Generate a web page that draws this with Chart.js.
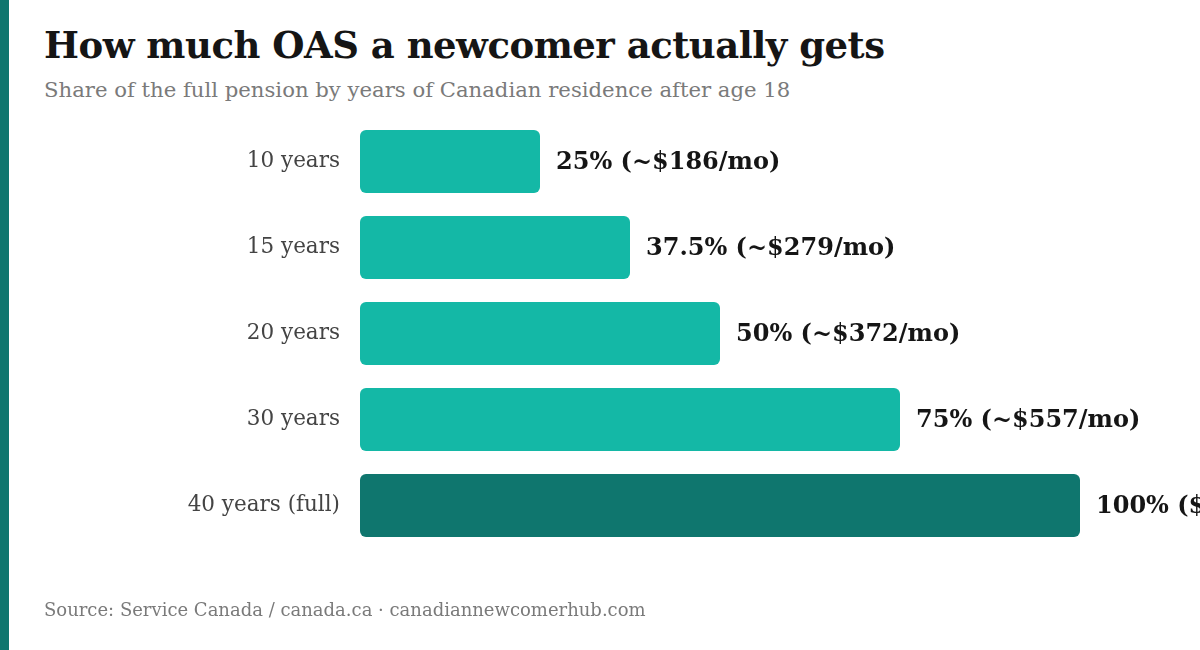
<!DOCTYPE html>
<html lang="en">
<head>
    <meta charset="UTF-8">
    <title>How much OAS a newcomer actually gets</title>
    <script src="https://cdn.jsdelivr.net/npm/chart.js"></script>
    <style>
        html, body { margin: 0; padding: 0; background: #fff; }
        body { width: 1200px; height: 650px; position: relative; overflow: hidden; font-family: "DejaVu Serif", serif; }
        /* teal accent strip on the left edge */
        .accent { position: absolute; left: 0; top: 0; width: 9px; height: 650px; background: #0f766e; }
        .title { position: absolute; left: 44px; top: 23px; font-size: 37px; font-weight: bold; color: #151515; white-space: nowrap; letter-spacing: -0.5px; }
        .subtitle { position: absolute; left: 44px; top: 77px; font-size: 21.2px; color: #7a7a7a; white-space: nowrap; }
        .source { position: absolute; left: 44px; top: 599px; font-size: 18px; color: #7a7a7a; white-space: nowrap; }
        .chart-box { position: absolute; left: 0; top: 0; width: 1200px; height: 650px; }
    </style>
</head>
<body>
    <div class="accent"></div>
    <div class="title">How much OAS a newcomer actually gets</div>
    <div class="subtitle">Share of the full pension by years of Canadian residence after age 18</div>
    <div class="chart-box"><canvas id="oasChart"></canvas></div>
    <div class="source">Source: Service Canada / canada.ca · canadiannewcomerhub.com</div>

    <script>
        // Data
        const residence = ['10 years', '15 years', '20 years', '30 years', '40 years (full)'];
        const sharePct = [25, 37.5, 50, 75, 100];
        const valueLabels = ['25% (~$186/mo)', '37.5% (~$279/mo)', '50% (~$372/mo)', '75% (~$557/mo)', '100% ($743/mo)'];

        const LIGHT = '#14b8a6';
        const DARK = '#0f766e';
        const SERIF = '"DejaVu Serif", serif';

        // Bold value text just past the end of each bar
        const endLabels = {
            id: 'endLabels',
            afterDatasetsDraw(chart) {
                const ctx = chart.ctx;
                const meta = chart.getDatasetMeta(0);
                ctx.save();
                ctx.font = 'bold 24px ' + SERIF;
                ctx.fillStyle = '#151515';
                ctx.textAlign = 'left';
                ctx.textBaseline = 'middle';
                meta.data.forEach((bar, i) => {
                    ctx.fillText(valueLabels[i], bar.x + 16, bar.y + 1);
                });
                ctx.restore();
            }
        };

        new Chart(document.getElementById('oasChart'), {
            type: 'bar',
            data: {
                labels: residence,
                datasets: [{
                    data: sharePct,
                    backgroundColor: ctx => ctx.dataIndex === sharePct.length - 1 ? DARK : LIGHT,
                    borderRadius: 6,
                    borderSkipped: false,
                    barPercentage: 0.733,
                    categoryPercentage: 1.0
                }]
            },
            options: {
                indexAxis: 'y',
                responsive: true,
                maintainAspectRatio: false,
                animation: false,
                layout: { padding: { left: 60, right: 120, top: 118.5, bottom: 101.5 } },
                plugins: {
                    legend: { display: false },
                    tooltip: { enabled: false }
                },
                scales: {
                    x: { display: false, min: 0, max: 100 },
                    y: {
                        grid: { display: false },
                        border: { display: false },
                        afterFit: axis => { axis.width = 300; },
                        ticks: {
                            padding: 12,
                            color: '#444',
                            font: { family: SERIF, size: 21.5 }
                        }
                    }
                }
            },
            plugins: [endLabels]
        });
    </script>
</body>
</html>
